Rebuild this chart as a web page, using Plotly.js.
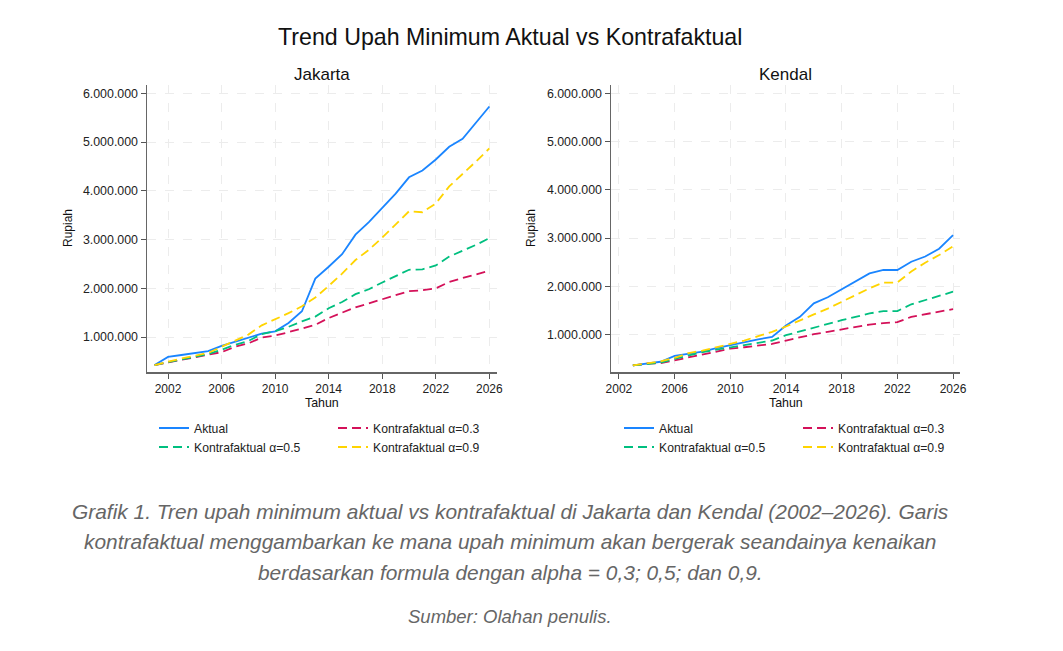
<!DOCTYPE html>
<html>
<head>
<meta charset="utf-8">
<script src="https://cdn.plot.ly/plotly-3.0.1.min.js"></script>
<style>
  html, body { margin: 0; padding: 0; background: #fff; }
  #chart { width: 1063px; height: 651px; }
</style>
</head>
<body>
<div id="chart"></div>
<script>
// ─── data ───────────────────────────────────────────────────
var yearsJkt = [2001, 2002, 2003, 2004, 2005, 2006, 2007, 2008, 2009, 2010, 2011, 2012, 2013,
  2014, 2015, 2016, 2017, 2018, 2019, 2020, 2021, 2022, 2023, 2024, 2025, 2026];
var aktualJkt = [426250, 591266, 631554, 671550, 711843, 819100, 900560, 972605, 1069865, 1118009,
  1290000, 1529150, 2200000, 2441301, 2700000, 3100000, 3355750, 3648035, 3940973, 4276349,
  4416186, 4641854, 4901798, 5067381, 5396761, 5729876];
var k03Jkt = [426250, 480000, 530000, 580000, 630000, 690000, 800000, 870000, 990000, 1030000,
  1100000, 1170000, 1250000, 1390000, 1500000, 1610000, 1690000, 1780000, 1860000, 1940000,
  1960000, 2000000, 2130000, 2210000, 2280000, 2360000];
var k05Jkt = [426250, 485000, 545000, 600000, 650000, 740000, 840000, 920000, 1060000, 1120000,
  1210000, 1320000, 1420000, 1590000, 1720000, 1880000, 1980000, 2120000, 2250000, 2380000,
  2390000, 2470000, 2650000, 2770000, 2890000, 3030000];
var k09Jkt = [426250, 495000, 560000, 615000, 675000, 800000, 930000, 1050000, 1240000, 1360000,
  1490000, 1630000, 1810000, 2050000, 2300000, 2580000, 2790000, 3040000, 3320000, 3580000,
  3560000, 3740000, 4090000, 4340000, 4600000, 4870000];

var yearsKdl = [2003, 2004, 2005, 2006, 2007, 2008, 2009, 2010, 2011, 2012, 2013, 2014,
  2015, 2016, 2017, 2018, 2019, 2020, 2021, 2022, 2023, 2024, 2025, 2026];
var aktualKdl = [365000, 410000, 440000, 560000, 600000, 650000, 720000, 780000, 850000, 904500,
  953100, 1190000, 1370000, 1650000, 1775000, 1940000, 2110000, 2270000, 2340000, 2340000,
  2510000, 2620000, 2780000, 3060000];
var k03Kdl = [365000, 400000, 410000, 470000, 530000, 600000, 660000, 710000, 740000, 780000,
  810000, 880000, 950000, 1010000, 1060000, 1110000, 1160000, 1210000, 1240000, 1260000,
  1370000, 1420000, 1470000, 1530000];
var k05Kdl = [365000, 400000, 420000, 500000, 570000, 640000, 690000, 740000, 780000, 830000,
  880000, 990000, 1070000, 1150000, 1220000, 1300000, 1370000, 1440000, 1490000, 1490000,
  1630000, 1720000, 1800000, 1890000];
var k09Kdl = [365000, 410000, 450000, 520000, 620000, 670000, 740000, 800000, 880000, 970000,
  1060000, 1170000, 1300000, 1420000, 1540000, 1680000, 1820000, 1960000, 2080000, 2080000,
  2310000, 2490000, 2650000, 2830000];

var seriesNames = ['Aktual', 'Kontrafaktual \u03b1=0.3', 'Kontrafaktual \u03b1=0.5', 'Kontrafaktual \u03b1=0.9'];
var yTicks = [1000000, 2000000, 3000000, 4000000, 5000000, 6000000];
var xTicks = [2002, 2006, 2010, 2014, 2018, 2022, 2026];

// ─── style ──────────────────────────────────────────────────
var FONT = 'Liberation Sans, Arial, sans-serif';
var colors = ['#1a85ff', '#d41159', '#00bf7f', '#ffd400'];
var dashes = ['solid', '9px,5px', '9px,5px', '9px,5px'];
var W = 1063, H = 651;
function px(x) { return x / W; }
function py(y) { return 1 - y / H; }

// legend rows are filled row first: Aktual + a=0.3 on top, a=0.5 + a=0.9 below
function makeTraces(years, vals, xa, ya, legRow1, legRow2) {
  var legs = [legRow1, legRow1, legRow2, legRow2];
  return vals.map(function (v, i) {
    return {
      type: 'scatter', mode: 'lines', name: seriesNames[i],
      x: years, y: v, xaxis: xa, yaxis: ya,
      line: { color: colors[i], width: 1.8, dash: dashes[i] },
      legend: legs[i], hoverinfo: 'x+y+name'
    };
  });
}

var traces = []
  .concat(makeTraces(yearsJkt, [aktualJkt, k03Jkt, k05Jkt, k09Jkt], 'x', 'y', 'legend', 'legend2'))
  .concat(makeTraces(yearsKdl, [aktualKdl, k03Kdl, k05Kdl, k09Kdl], 'x2', 'y2', 'legend3', 'legend4'));

function xAxis(domain, range, anchor) {
  return {
    domain: domain, range: range, anchor: anchor,
    tickvals: xTicks, ticks: 'outside', ticklen: 5, tickwidth: 1, tickcolor: '#555',
    tickfont: { family: FONT, size: 12, color: '#222' },
    showline: true, linecolor: '#666', linewidth: 1.5,
    showgrid: true, gridcolor: '#ececec', griddash: 'dash', gridwidth: 1,
    zeroline: false, fixedrange: true
  };
}
function yAxis(range, anchor) {
  return {
    domain: [py(372), py(85)], range: range, anchor: anchor,
    tickvals: yTicks, tickformat: ',d', ticks: 'outside', ticklen: 5, tickwidth: 1, tickcolor: '#555',
    tickfont: { family: FONT, size: 12.4, color: '#222' },
    showline: true, linecolor: '#666', linewidth: 1.5,
    showgrid: true, gridcolor: '#ececec', griddash: 'dash', gridwidth: 1,
    zeroline: false, fixedrange: true
  };
}
function legendBox(xPix, yPix) {
  return {
    orientation: 'h', x: px(xPix), y: py(yPix), xanchor: 'left', yanchor: 'middle',
    entrywidth: 134, entrywidthmode: 'pixels', traceorder: 'normal',
    font: { family: FONT, size: 12.2, color: '#222' }, bgcolor: 'rgba(0,0,0,0)', itemclick: false
  };
}
function note(text, x, y, size, extra) {
  var a = {
    text: text, x: px(x), y: py(y), xref: 'paper', yref: 'paper',
    showarrow: false, xanchor: 'center', yanchor: 'middle',
    font: { family: FONT, size: size, color: '#111' }
  };
  for (var k in extra) a[k] = extra[k];
  return a;
}

var captionFont = { family: FONT, size: 20.9, color: '#666', style: 'italic' };
var layout = {
  width: W, height: H,
  margin: { l: 0, r: 0, t: 0, b: 0 },
  paper_bgcolor: '#fff', plot_bgcolor: '#fff',
  separators: ',.',
  showlegend: true,
  xaxis: xAxis([px(147), px(497)], [2000.43, 2026.57], 'y'),
  yaxis: yAxis([283000, 6170000], 'x'),
  xaxis2: xAxis([px(611), px(960)], [2001.43, 2026.5], 'y2'),
  yaxis2: yAxis([228000, 6170000], 'x2'),
  legend: legendBox(154, 428),
  legend2: legendBox(154, 447),
  legend3: legendBox(619, 428),
  legend4: legendBox(619, 447),
  annotations: [
    note('Trend Upah Minimum Aktual vs Kontrafaktual', 510, 37, 23.2),
    note('Jakarta', 322, 74, 17),
    note('Kendal', 785, 74, 17),
    note('Rupiah', 68, 228, 12, { textangle: -90 }),
    note('Rupiah', 531, 228, 12, { textangle: -90 }),
    note('Tahun', 322, 403, 12.4),
    note('Tahun', 786, 403, 12.4),
    note('Grafik 1. Tren upah minimum aktual vs kontrafaktual di Jakarta dan Kendal (2002\u20132026). Garis', 510, 511, 20.9, { font: captionFont }),
    note('kontrafaktual menggambarkan ke mana upah minimum akan bergerak seandainya kenaikan', 510, 541, 20.9, { font: captionFont }),
    note('berdasarkan formula dengan alpha = 0,3; 0,5; dan 0,9.', 510, 572, 20.9, { font: captionFont }),
    note('Sumber: Olahan penulis.', 510, 616, 18.5, { font: { family: FONT, size: 18.5, color: '#666', style: 'italic' } })
  ]
};

Plotly.newPlot('chart', traces, layout, { displayModeBar: false, staticPlot: true });
</script>
</body>
</html>
